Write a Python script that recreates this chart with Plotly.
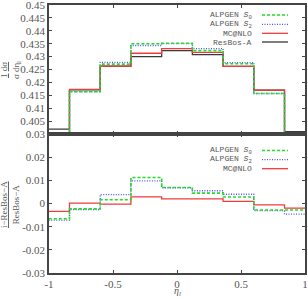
import plotly.graph_objects as go

# bin edges in eta_l
edges = [-1.08, -0.84, -0.60, -0.36, -0.12, 0.12, 0.36, 0.60, 0.84, 1.08]

# upper panel: 1/sigma dsigma/deta
alpgen_s0 = [0.3992, 0.4164, 0.4271, 0.4350, 0.4352, 0.4323, 0.4272, 0.4157, 0.3998]
alpgen_s2 = [0.3990, 0.4164, 0.4278, 0.4343, 0.4350, 0.4331, 0.4277, 0.4157, 0.3990]
mcatnlo   = [0.4004, 0.4173, 0.4263, 0.4313, 0.4331, 0.4316, 0.4262, 0.4170, 0.4004]
resbos_a  = [0.4019, 0.4171, 0.4263, 0.4300, 0.4323, 0.4308, 0.4262, 0.4170, 0.4009]

# lower panel: (i - ResBos-A)/ResBos-A
r_s0  = [-0.0066, -0.0023, 0.0016, 0.0112, 0.0069, 0.0045, 0.0028, -0.0028, -0.0028]
r_s2  = [-0.0072, -0.0026, 0.0038, 0.0098, 0.0068, 0.0055, 0.0040, -0.0031, -0.0046]
r_mc  = [-0.0034, 0.0002, -0.0003, 0.0029, 0.0020, 0.0020, 0.0009, -0.0006, -0.0020]

upper_ticks = [0.405, 0.41, 0.415, 0.42, 0.425, 0.43, 0.435, 0.44, 0.445, 0.45]
upper_ticktext = ["0.405", "0.41", "0.415", "0.42", "0.425", "0.43", "0.435", "0.44", "0.445", "0.45"]
lower_ticks = [-0.03, -0.02, -0.01, 0, 0.01, 0.02, 0.03]
lower_ticktext = ["-0.03", "-0.02", "-0.01", "0", "0.01", "0.02", "0.03"]
x_ticks = [-1, -0.5, 0, 0.5, 1]
x_ticktext = ["-1", "-0.5", "0", "0.5", "1"]

GREEN = "#22dd22"
BLUE = "#5050f0"
RED = "#f03c3c"
BLACK = "#3a3a3a"

styles = {
    "s0": dict(color=GREEN, dash="3px,2px", width=1.6),
    "s2": dict(color=BLUE, dash="1px,1.5px", width=1.3),
    "mc": dict(color=RED, dash="solid", width=1.3),
    "rb": dict(color=BLACK, dash="solid", width=1.3),
}

def step(vals):
    return list(vals) + [vals[-1]]

fig = go.Figure()
for key, vals in [("rb", resbos_a), ("mc", mcatnlo), ("s2", alpgen_s2), ("s0", alpgen_s0)]:
    fig.add_trace(go.Scatter(x=edges, y=step(vals), mode="lines", line_shape="hv",
                             line=styles[key], xaxis="x", yaxis="y", showlegend=False))
for key, vals in [("mc", r_mc), ("s2", r_s2), ("s0", r_s0)]:
    fig.add_trace(go.Scatter(x=edges, y=step(vals), mode="lines", line_shape="hv",
                             line=styles[key], xaxis="x2", yaxis="y2", showlegend=False))

W, H = 308, 300
L, R, T, B = 49, 3, 5, 27
split = 134
pw, ph = W - L - R, H - T - B
ysplit = (H - B - split) / ph

tickfont = dict(family="Liberation Serif, DejaVu Serif, serif", size=11, color="#555555")
axcommon = dict(showgrid=False, zeroline=False, showline=True, linecolor="#444444", linewidth=1.5,
                mirror="ticks", ticks="inside", ticklen=3, tickcolor="#444444", tickfont=tickfont,
                automargin=False, ticklabeloverflow="allow")

fig.update_layout(
    width=W, height=H, margin=dict(l=L, r=R, t=T, b=B, autoexpand=False),
    paper_bgcolor="white", plot_bgcolor="white",
    xaxis=dict(domain=[0, 1], range=[-1, 1], anchor="y", tickvals=x_ticks, showticklabels=False, **axcommon),
    yaxis=dict(domain=[ysplit, 1], range=[0.4, 0.45], anchor="x",
               tickvals=upper_ticks, ticktext=upper_ticktext, **axcommon),
    xaxis2=dict(domain=[0, 1], range=[-1, 1], anchor="y2", tickvals=x_ticks, ticktext=x_ticktext, **axcommon),
    yaxis2=dict(domain=[0, ysplit], range=[-0.03, 0.03], anchor="x2",
                tickvals=lower_ticks, ticktext=lower_ticktext, **axcommon),
)

def px_to_paper(x, y):
    return (x - L) / pw, (H - B - y) / ph

annots = []
shapes = []
legfont = dict(family="Liberation Mono, DejaVu Sans Mono, monospace", size=8, color="#555555")
upper_leg = [("ALPGEN <i>S</i><sub>0</sub>", "s0", 15), ("ALPGEN <i>S</i><sub>2</sub>", "s2", 24.3),
             ("MC@NLO", "mc", 33.3), ("ResBos-A", "rb", 42)]
lower_leg = [("ALPGEN <i>S</i><sub>0</sub>", "s0", 150.5), ("ALPGEN <i>S</i><sub>2</sub>", "s2", 159.7),
             ("MC@NLO", "mc", 168.7)]
for text, key, ypx in upper_leg + lower_leg:
    xt, yt = px_to_paper(254, ypx)
    annots.append(dict(x=xt, y=yt, xref="paper", yref="paper", text=text, showarrow=False,
                       xanchor="right", yanchor="middle", font=legfont))
    x0, y0 = px_to_paper(262, ypx)
    x1, _ = px_to_paper(288, ypx)
    st = styles[key]
    shapes.append(dict(type="line", xref="paper", yref="paper", x0=x0, x1=x1, y0=y0, y1=y0,
                       line=dict(color=st["color"], dash=st["dash"], width=st["width"])))

titlefont = dict(family="Liberation Serif, DejaVu Serif, serif", size=9, color="#555555")
xa, ya = px_to_paper(10, 70)
annots.append(dict(x=xa, y=ya, xref="paper", yref="paper", showarrow=False, textangle=-90,
                   text="<u>1</u> <u>dσ</u><br>σ dη<sub>l</sub>", font=titlefont,
                   xanchor="center", yanchor="middle"))
xa, ya = px_to_paper(10, 205)
annots.append(dict(x=xa, y=ya, xref="paper", yref="paper", showarrow=False, textangle=-90,
                   text="<u>i−ResBos−A</u><br>ResBos−A", font=titlefont,
                   xanchor="center", yanchor="middle"))
xa, ya = px_to_paper(177, 300)
annots.append(dict(x=xa, y=ya, xref="paper", yref="paper", showarrow=False,
                   text="<i>η</i><sub><i>l</i></sub>", font=dict(family="Liberation Serif, DejaVu Serif, serif", size=10, color="#555555"),
                   xanchor="center", yanchor="bottom"))

fig.update_layout(annotations=annots, shapes=shapes)
fig.write_html("out.html", config={"displayModeBar": False},
               post_script="document.body.style.margin='0';document.body.style.overflow='hidden';")
